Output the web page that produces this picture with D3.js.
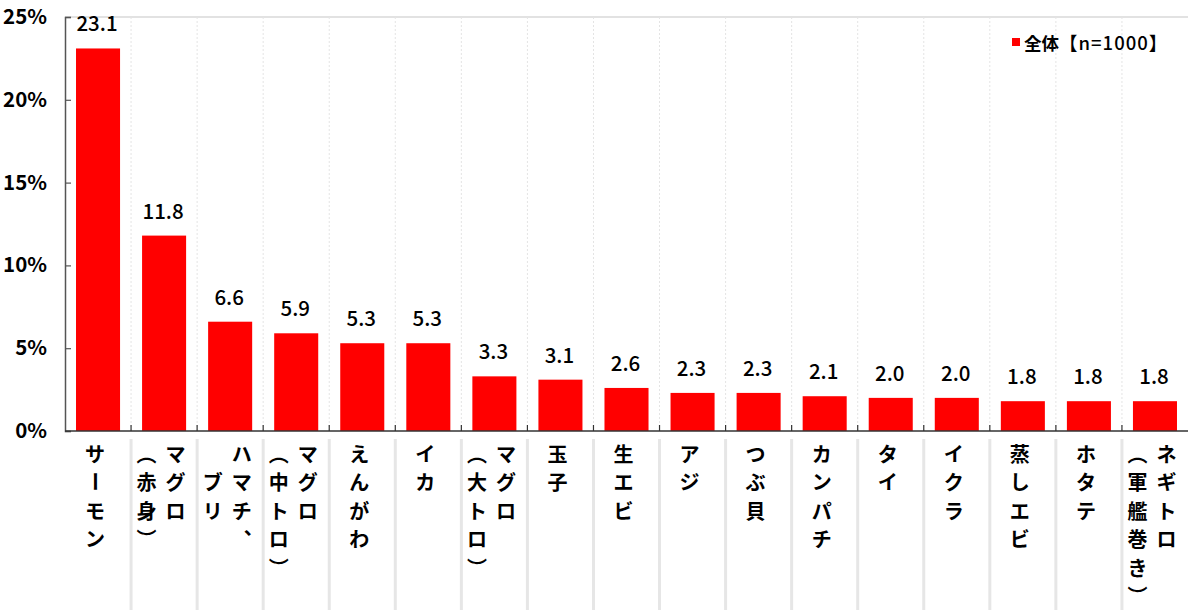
<!DOCTYPE html>
<html>
<head>
<meta charset="utf-8">
<script src="https://cdn.jsdelivr.net/npm/d3@7"></script>
<style>
  html, body { margin: 0; padding: 0; background: #fff; }
  svg { display: block; }
</style>
</head>
<body>
<svg id="chart" width="1188" height="610"></svg>
<script>
// Sushi toppings ranking (%), total sample n=1000
const categories = [
  "サーモン", "マグロ\n（赤身）", "ハマチ、\n　ブリ", "マグロ\n（中トロ）", "えんがわ", "イカ",
  "マグロ\n（大トロ）", "玉子", "生エビ", "アジ", "つぶ貝", "カンパチ", "タイ", "イクラ",
  "蒸しエビ", "ホタテ", "ネギトロ\n（軍艦巻き）"
];
const values = [23.1, 11.8, 6.6, 5.9, 5.3, 5.3, 3.3, 3.1, 2.6, 2.3, 2.3, 2.1, 2.0, 2.0, 1.8, 1.8, 1.8];
const yTicks = [0, 5, 10, 15, 20, 25];
const seriesName = "全体";
const seriesNote = "【n=1000】";

const W = 1188, H = 610;
const plot = { left: 65, right: 1188, top: 17, bottom: 431 };
const FONT = "'Noto Sans CJK JP', 'Noto Sans', sans-serif";

const svg = d3.select("#chart");

const x = d3.scaleBand()
  .domain(categories)
  .range([plot.left, plot.right])
  .paddingInner(1 / 3)
  .paddingOuter(1 / 6);
const step = x.step();
const bandStart = c => x(c) - step * x.paddingOuter();

const y = d3.scaleLinear().domain([0, 25]).range([plot.bottom, plot.top]);

// top frame line
svg.append("line")
  .attr("x1", plot.left).attr("x2", plot.right)
  .attr("y1", plot.top).attr("y2", plot.top)
  .attr("stroke", "#e2e2e2").attr("stroke-width", 2);

// dotted vertical separators between categories
const boundaries = categories.slice(1).map(c => bandStart(c));
svg.append("g").selectAll("line").data(boundaries).join("line")
  .attr("x1", d => d).attr("x2", d => d)
  .attr("y1", plot.top).attr("y2", plot.bottom)
  .attr("stroke", "#e4e4e4").attr("stroke-width", 1)
  .attr("stroke-dasharray", "2,2");

// separators in the category label area
svg.append("g").selectAll("line").data(boundaries).join("line")
  .attr("x1", d => d).attr("x2", d => d)
  .attr("y1", 439).attr("y2", H)
  .attr("stroke", "#e6e6e6").attr("stroke-width", 3);

// bars
svg.append("g").selectAll("rect").data(values).join("rect")
  .attr("x", (d, i) => x(categories[i]))
  .attr("width", x.bandwidth())
  .attr("y", d => y(d))
  .attr("height", d => y(0) - y(d))
  .attr("fill", "#ff0000");

// value labels
svg.append("g").selectAll("text").data(values).join("text")
  .attr("x", (d, i) => x(categories[i]) + x.bandwidth() / 2 - 1)
  .attr("y", d => y(d) - 17)
  .attr("text-anchor", "middle")
  .attr("font-family", FONT)
  .attr("font-size", 20.5)
  .attr("font-weight", 500)
  .attr("fill", "#000")
  .text(d => d.toFixed(1));

// y axis
const yAxis = d3.axisLeft(y).tickValues(yTicks).tickSize(-6).tickPadding(18)
  .tickFormat(d => d + "%");
const gy = svg.append("g").attr("transform", `translate(${plot.left},0)`).call(yAxis);
gy.select(".domain").attr("stroke", "#555").attr("stroke-width", 1.5);
gy.selectAll(".tick line").attr("stroke", "#555").attr("stroke-width", 1.2);
gy.selectAll(".tick text")
  .attr("font-family", FONT).attr("font-size", 20.5).attr("font-weight", 700)
  .attr("fill", "#000");

// x baseline with inward ticks at category boundaries
svg.append("line")
  .attr("x1", plot.left).attr("x2", plot.right)
  .attr("y1", plot.bottom).attr("y2", plot.bottom)
  .attr("stroke", "#333").attr("stroke-width", 1.5);
svg.append("g").selectAll("line").data(boundaries).join("line")
  .attr("x1", d => d).attr("x2", d => d)
  .attr("y1", plot.bottom - 6).attr("y2", plot.bottom)
  .attr("stroke", "#333").attr("stroke-width", 1.2);

// vertical (tategaki) category labels, columns read right to left
const verticalForms = { "（": "︵", "）": "︶", "、": "︑" };
const rotated = new Set(["ー"]);
const pitch = 28.5, colGap = 29, firstRow = 453;
const labelG = svg.append("g")
  .attr("font-family", FONT).attr("font-size", 20).attr("font-weight", 700)
  .attr("fill", "#000");
categories.forEach((c, i) => {
  const cols = c.split("\n");
  const cx = x(c) + x.bandwidth() / 2 - 3;
  const n = cols.length;
  cols.forEach((col, k) => {
    const colX = cx + ((n - 1) / 2 - k) * colGap;
    Array.from(col).forEach((ch, r) => {
      if (ch === "　") return;
      const cy = firstRow + r * pitch;
      const t = labelG.append("text")
        .attr("x", colX)
        .attr("y", cy)
        .attr("text-anchor", "middle")
        .attr("dominant-baseline", "central")
        .text(verticalForms[ch] || ch);
      if (rotated.has(ch)) t.attr("transform", `rotate(90,${colX},${cy})`);
    });
  });
});

// legend
const lg = svg.append("g").attr("transform", "translate(1012,38)");
lg.append("rect").attr("x", 0).attr("y", 0).attr("width", 8).attr("height", 8).attr("fill", "#ff0000");
const lt = lg.append("text").attr("x", 12).attr("y", 4)
  .attr("dominant-baseline", "central")
  .attr("font-family", FONT).attr("fill", "#000");
lt.append("tspan").attr("font-size", 17.5).attr("font-weight", 700).text(seriesName);
lt.append("tspan").attr("font-size", 18.5).attr("font-weight", 500)
  .attr("letter-spacing", 1).text(seriesNote);
</script>
</body>
</html>
